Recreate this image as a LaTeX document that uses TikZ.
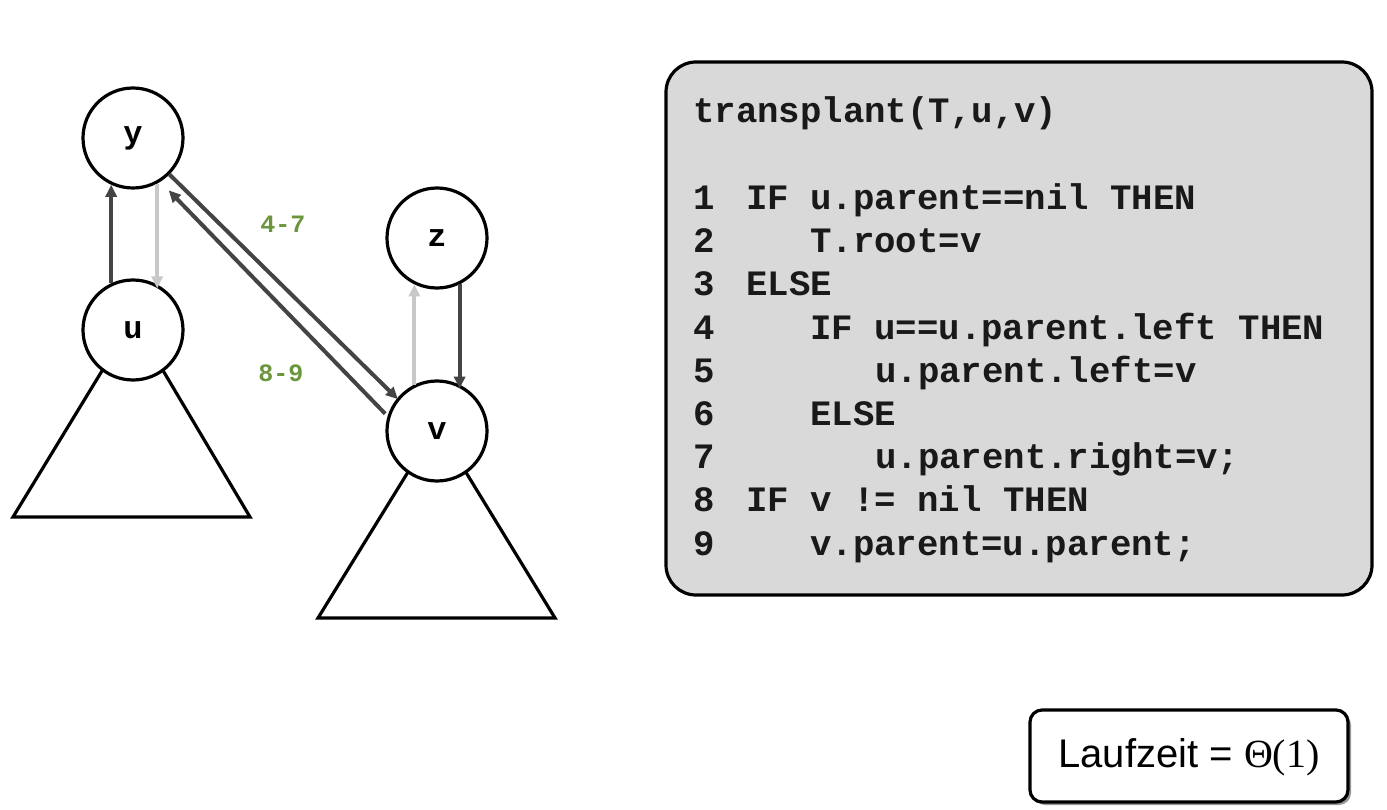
\documentclass[tikz,border=0pt]{standalone}
\usepackage{fontspec}
\setmainfont{Liberation Sans}
\newfontfamily\codefont{Liberation Mono}
\newfontfamily\mathlike{Liberation Serif}
\usetikzlibrary{arrows.meta,calc}
\definecolor{darkarr}{RGB}{68,68,68}
\definecolor{lightarr}{RGB}{200,200,200}
\definecolor{lblgreen}{RGB}{108,150,62}
\definecolor{boxgray}{RGB}{217,217,217}
\definecolor{codetext}{RGB}{25,25,25}
\tikzset{
  treenode/.style={circle,draw=black,line width=3.2pt,fill=white,minimum size=100pt,inner sep=0pt,font=\codefont\bfseries\fontsize{32}{32}\selectfont},
  subtree/.style={draw=black,line width=3.2pt,line join=miter},
  darkptr/.style={draw=darkarr,line width=4pt,-{Triangle[length=12pt,width=11pt]}},
  lightptr/.style={draw=lightarr,line width=4pt,-{Triangle[length=12pt,width=11pt]}},
  steplabel/.style={text=lblgreen,font=\codefont\bfseries\fontsize{25}{25}\selectfont},
  codeline/.style={anchor=base west,inner sep=0pt,text=codetext,font=\codefont\bfseries\fontsize{35.7}{40}\selectfont},
}
\begin{document}
\begin{tikzpicture}[x=1pt,y=-1pt]
\useasboundingbox (0,0) rectangle (1387,810);
% subtrees
\draw[subtree] (133,320) -- (13,517) -- (250,517) -- cycle;
\draw[subtree] (437,425) -- (318,618) -- (555,618) -- cycle;
% nodes
\node[treenode] (y) at (133,138) {\raisebox{-4pt}{y}};
\node[treenode] (u) at (133,330) {\raisebox{-4pt}{u}};
\node[treenode] (z) at (437,238) {\raisebox{-4pt}{z}};
\node[treenode] (v) at (437,431) {\raisebox{-4pt}{v}};
% pointers
\draw[darkptr] (u.115) -- (y.245);
\draw[lightptr] (y.-62) -- ([yshift=-4pt]u.62);
\draw[lightptr] (v.116) -- (z.244);
\draw[darkptr] (z.-64) -- ([yshift=-4pt]v.64);
\draw[darkptr] (y.-45) -- ([shift={(-2pt,-4pt)}]v.136);
\draw[darkptr,shorten >=12pt] ([shift={(-4pt,-2pt)}]v.158) -- (y.-58);
\node[steplabel] (l47) at (283,224) {4-7};
\node[steplabel] (l89) at (281,373) {8-9};
% code box
\draw[line width=3.2pt,fill=boxgray,rounded corners=30pt] (666,62) rectangle (1372,595);
\node[codeline] (title) at (693,123) {transplant(T,u,v)};
\node[codeline] (n1) at (693,210) {1};
\node[codeline] (n2) at (693,253) {2};
\node[codeline] (n3) at (693,296) {3};
\node[codeline] (n4) at (693,339) {4};
\node[codeline] (n5) at (693,382) {5};
\node[codeline] (n6) at (693,425) {6};
\node[codeline] (n7) at (693,468) {7};
\node[codeline] (n8) at (693,511) {8};
\node[codeline] (n9) at (693,555) {9};
\node[codeline] (c1) at (746,210) {IF u.parent==nil THEN};
\node[codeline] (c2) at (810,253) {T.root=v};
\node[codeline] (c3) at (746,296) {ELSE};
\node[codeline] (c4) at (810,339) {IF u==u.parent.left THEN};
\node[codeline] (c5) at (875,382) {u.parent.left=v};
\node[codeline] (c6) at (810,425) {ELSE};
\node[codeline] (c7) at (875,468) {u.parent.right=v;};
\node[codeline] (c8) at (746,511) {IF v != nil THEN};
\node[codeline] (c9) at (810,555) {v.parent=u.parent;};
% runtime box
\fill[black!40,rounded corners=12pt] (1033,713) rectangle (1351,805);
\draw[line width=3.2pt,fill=white,rounded corners=12pt] (1030,710) rectangle (1348,802);
\node[font=\fontsize{40}{40}\selectfont] (rt) at (1189,757) {Laufzeit = {\mathlike Θ(1)}};
\end{tikzpicture}
\end{document}
